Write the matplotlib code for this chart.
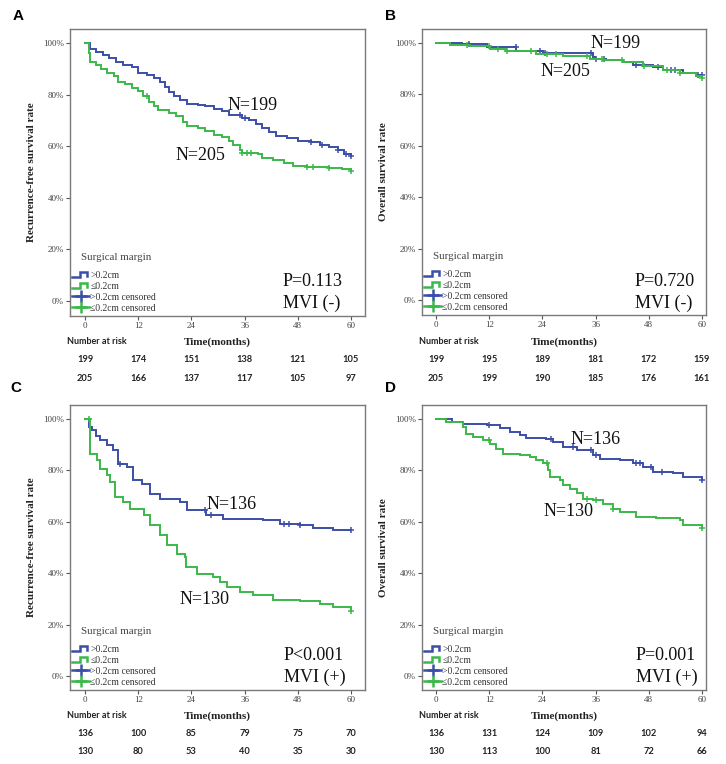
import numpy as np
import matplotlib
matplotlib.use("Agg")
import matplotlib.pyplot as plt
import matplotlib.transforms as mtrans
from matplotlib.lines import Line2D
from matplotlib.legend_handler import HandlerBase

W, H = 726, 764
BLUE = "#3b4fa6"
GREEN = "#3cb84a"
FRAME = "#7a7a7a"
SERIF = "Liberation Serif"
SANS = "Lato"

# ---------------- data ----------------
months = [0, 12, 24, 36, 48, 60]
ytick_vals = [0, 20, 40, 60, 80, 100]
ytick_labels = ["0%", "20%", "40%", "60%", "80%", "100%"]
legend_labels = [">0.2cm", "\u22640.2cm", ">0.2cm censored", "\u22640.2cm censored"]

# Panel A: Recurrence-free survival, MVI (-)
A_gt_t = [0, 1.2, 2.5, 4, 5.5, 7, 8.5, 10.5, 12, 14, 15.5, 17, 18, 19, 20, 21.5, 23, 25.5, 27, 29,
          31, 32.5, 35.5, 37, 38.5, 40, 41.5, 43, 45.5, 48, 51, 53, 55, 57, 58.5, 60]
A_gt_s = [100, 97.5, 96.5, 95.5, 94, 92.5, 91.5, 90.5, 88.5, 87.5, 86.5, 85, 83, 81, 79.5, 78, 76.5,
          76, 75.5, 74.5, 73.5, 72, 71, 70, 68.5, 67, 65.5, 64, 63, 62, 61.5, 60.5, 59.5, 58.5, 57, 56]
A_le_t = [0, 0.8, 1.2, 2.5, 3.5, 5, 6.5, 7.5, 9, 10.5, 12, 13, 14.5, 15.5, 16.5, 19, 20.5, 22, 23,
          25.5, 27, 29, 31, 32.5, 33.5, 35, 35.5, 39, 40, 42.5, 45, 47, 50, 55, 58, 60]
A_le_s = [100, 96, 92.5, 91.5, 90, 88.5, 87, 85, 84, 82.5, 81.5, 79.5, 77, 75.5, 74, 73, 71.5, 69.5,
          68, 67, 66, 64.5, 63.5, 62, 60.5, 58.5, 57.5, 57, 55.5, 54.5, 53.5, 52.5, 52, 51.5, 51, 50.5]
A_gt_c = [35, 36, 51, 53.5, 57, 59, 60]
A_le_c = [14, 35.5, 36.5, 37.5, 50, 51.5, 55, 60]
A_risk_gt = [199, 174, 151, 138, 121, 105]
A_risk_le = [205, 166, 137, 117, 105, 97]

# Panel B: Overall survival, MVI (-)
B_gt_t = [0, 5.8, 11.4, 18.1, 24.1, 35.4, 35.9, 38.4, 42.2, 44.4, 49, 51.2, 55.7, 58.7, 60]
B_gt_s = [100, 99.4, 98.5, 97, 96, 94.5, 93.7, 93.3, 92.6, 91.3, 90.7, 89.3, 88.1, 87.4, 87.4]
B_le_t = [0, 3.1, 7.6, 12.1, 15.9, 22.6, 28.6, 34.7, 37.7, 42.2, 46.7, 51.2, 55, 58.7, 60]
B_le_s = [100, 99.3, 98.7, 97.6, 96.8, 95.8, 94.8, 93.9, 93.2, 92.5, 91.2, 89.6, 88.1, 87.1, 86.2]
B_gt_c = [7.5, 18, 23.5, 24.5, 35, 36, 38, 45, 50, 53, 54, 59, 60]
B_le_c = [7, 12, 14, 16, 21.5, 25, 27, 34, 37.5, 42, 47, 52, 55, 60]
B_risk_gt = [199, 195, 189, 181, 172, 159]
B_risk_le = [205, 199, 190, 185, 176, 161]

# Panel C: Recurrence-free survival, MVI (+)
C_gt_t = [0, 0.8, 1.5, 2.5, 3.4, 4.9, 6.4, 7.5, 9.4, 10.9, 12.8, 14.7, 16.9, 21.4, 23, 27.4, 31.2,
          40.2, 44, 48.5, 51.5, 56, 60]
C_gt_s = [100, 97, 95.6, 93.5, 91.7, 89.8, 87.8, 82.6, 81.3, 76.1, 74.8, 70.9, 69, 67.7, 64.5, 62.8,
          61.2, 60.6, 59.3, 58.6, 57.6, 56.7, 56.7]
C_le_t = [0, 1.2, 2.6, 3.4, 4.9, 5.6, 6.8, 8.6, 10.2, 13.2, 14.7, 16.9, 18.4, 20.7, 22.6, 22.9, 25.2,
          28.9, 30.5, 32, 35, 38, 42.5, 48.5, 53, 56, 60]
C_le_s = [100, 86.5, 84, 80.7, 78, 75.5, 69.6, 67.5, 65.1, 62.5, 58.6, 54.7, 50.9, 47.6, 46.3, 42.4,
          39.8, 38.5, 36.6, 34.6, 32.7, 31.4, 29.5, 29.3, 28.1, 26.8, 25.5]
C_gt_c = [8, 27, 28.5, 45, 46, 48.5, 60]
C_le_c = [1, 60]
C_risk_gt = [136, 100, 85, 79, 75, 70]
C_risk_le = [130, 80, 53, 40, 35, 30]

# Panel D: Overall survival, MVI (+)
D_gt_t = [0, 3.5, 6.1, 11.4, 14.4, 16.6, 18.9, 20.4, 24.9, 26.4, 28.6, 31.7, 35.4, 36.9, 41.4, 44.4,
          46.7, 49, 53.5, 55.7, 60]
D_gt_s = [100, 98.8, 98.2, 97.5, 96.3, 95, 93.7, 92.4, 92.1, 91.1, 89.1, 87.8, 85.9, 84.6, 83.9, 82.7,
          81.4, 79.4, 78.8, 77.5, 76.4]
D_le_t = [0, 2.3, 6.1, 6.8, 8.3, 10.6, 12.1, 13.6, 15.1, 18.9, 21.1, 22.6, 24.1, 25.3, 25.7, 27.9,
          28.6, 30.2, 31.7, 33.2, 35.4, 37.7, 39.9, 41.4, 45.2, 49.7, 55, 55.7, 60]
D_le_s = [100, 98.8, 96.8, 94.2, 93, 91.7, 90.4, 88.4, 86.5, 85.9, 85.2, 83.9, 82.7, 80.1, 77.5, 76.2,
          74.2, 72.9, 71, 69, 68.4, 67.1, 65.1, 63.9, 61.9, 61.3, 60.6, 58.6, 57.4]
D_gt_c = [12, 26, 31, 35, 36, 45, 46, 48.5, 51, 60]
D_le_c = [12, 25, 34, 36, 40, 60]
D_risk_gt = [136, 131, 124, 109, 102, 94]
D_risk_le = [130, 113, 100, 81, 72, 66]

# ---------------- layout (pixels) ----------------
panels = [
    dict(letter="A", box=(70, 29, 365, 316), xlim=(-3.4, 63.2), ylim=(-5.8, 105.4),
         ylabel="Recurrence-free survival rate", ylab_x=32, risk_y=(341, 359, 378),
         gt=(A_gt_t, A_gt_s, A_gt_c), le=(A_le_t, A_le_s, A_le_c), risk=(A_risk_gt, A_risk_le),
         n_gt=("N=199", 253, 106), n_le=("N=205", 200, 155),
         p=("P=0.113", "MVI (-)", 283, 282, 303), letter_xy=(18, 16), nar_x=67),
    dict(letter="B", box=(422, 29, 706, 315), xlim=(-3.16, 60.9), ylim=(-5.8, 105.4),
         ylabel="Overall survival rate", ylab_x=384, risk_y=(341, 359, 378),
         gt=(B_gt_t, B_gt_s, B_gt_c), le=(B_le_t, B_le_s, B_le_c), risk=(B_risk_gt, B_risk_le),
         n_gt=("N=199", 616, 44), n_le=("N=205", 565, 72),
         p=("P=0.720", "MVI (-)", 635, 282, 303), letter_xy=(391, 16), nar_x=419),
    dict(letter="C", box=(70, 405, 365, 690), xlim=(-3.4, 63.2), ylim=(-5.4, 105.4),
         ylabel="Recurrence-free survival rate", ylab_x=32, risk_y=(715, 733, 752),
         gt=(C_gt_t, C_gt_s, C_gt_c), le=(C_le_t, C_le_s, C_le_c), risk=(C_risk_gt, C_risk_le),
         n_gt=("N=136", 232, 505), n_le=("N=130", 205, 599),
         p=("P<0.001", "MVI (+)", 284, 655, 677), letter_xy=(16, 388), nar_x=67),
    dict(letter="D", box=(422, 405, 706, 690), xlim=(-3.16, 60.9), ylim=(-5.4, 105.4),
         ylabel="Overall survival rate", ylab_x=384, risk_y=(715, 733, 752),
         gt=(D_gt_t, D_gt_s, D_gt_c), le=(D_le_t, D_le_s, D_le_c), risk=(D_risk_gt, D_risk_le),
         n_gt=("N=136", 596, 439), n_le=("N=130", 569, 511),
         p=("P=0.001", "MVI (+)", 636, 655, 677), letter_xy=(391, 388), nar_x=419),
]


def fx(px):
    return px / W


def fy(py):
    return 1 - py / H


class StepHandler(HandlerBase):
    def create_artists(self, legend, orig_handle, xdescent, ydescent, width, height, fontsize, trans):
        x0 = -xdescent
        xs = np.array([0, 0.45, 0.45, 0.85, 0.85]) * width + x0
        ys = np.array([0.15, 0.15, 0.85, 0.85, 0.35]) * height - ydescent
        ln = Line2D(xs, ys, color=orig_handle.get_color(), lw=orig_handle.get_linewidth(),
                    solid_joinstyle="miter")
        ln.set_transform(trans)
        return [ln]


def step_at(t, s, tc):
    t = np.asarray(t)
    s = np.asarray(s)
    idx = np.searchsorted(t, tc, side="right") - 1
    return s[np.clip(idx, 0, len(s) - 1)]


fig = plt.figure(figsize=(W / 100, H / 100), dpi=100)
fig.patch.set_facecolor("white")

for P in panels:
    l, t, r, b = P["box"]
    ax = fig.add_axes([fx(l), fy(b), (r - l) / W, (b - t) / H])
    ax.set_xlim(*P["xlim"])
    ax.set_ylim(*P["ylim"])
    for sp in ax.spines.values():
        sp.set_color(FRAME)
        sp.set_linewidth(1.0)
    ax.set_xticks(months)
    ax.set_xticklabels([str(m) for m in months])
    ax.set_yticks(ytick_vals)
    ax.set_yticklabels(ytick_labels)
    ax.tick_params(direction="out", length=3, width=0.8, color="#555555", labelcolor="#444444",
                   labelsize=6.5, pad=1.5)
    for lab in ax.get_xticklabels() + ax.get_yticklabels():
        lab.set_fontfamily(SERIF)

    for (tt, ss, cc), col in ((P["gt"], BLUE), (P["le"], GREEN)):
        ax.plot(tt, ss, drawstyle="steps-post", color=col, lw=1.4, solid_joinstyle="miter")
        ax.plot(cc, step_at(tt, ss, cc), ls="none", marker="+", ms=5, mew=1.1, color=col)

    # curve labels
    for key in ("n_gt", "n_le"):
        txt, xp, yp = P[key]
        fig.text(fx(xp), fy(yp), txt, ha="center", va="center", fontsize=13, family=SERIF,
                 color="#111111")
    ptxt, mtxt, xp, y1, y2 = P["p"]
    fig.text(fx(xp), fy(y1), ptxt, ha="left", va="center", fontsize=13, family=SERIF, color="#111111")
    fig.text(fx(xp), fy(y2), mtxt, ha="left", va="center", fontsize=13, family=SERIF, color="#111111")

    # y label
    fig.text(fx(P["ylab_x"]), fy((t + b) / 2), P["ylabel"], rotation=90, ha="center", va="center",
             fontsize=8, family=SERIF, fontweight="bold", color="#222222")

    # legend
    fig.text(fx(l + 11), fy(b - 58), "Surgical margin", ha="left", va="center", fontsize=7.8,
             family=SERIF, color="#444444")
    handles = [Line2D([], [], color=BLUE, lw=1.8), Line2D([], [], color=GREEN, lw=1.8),
               Line2D([], [], color=BLUE, lw=1.8, marker="+", ms=9, mew=1.8),
               Line2D([], [], color=GREEN, lw=1.8, marker="+", ms=9, mew=1.8)]
    leg = ax.legend(handles, legend_labels, loc="upper left",
                    bbox_to_anchor=(fx(l + 2), fy(b - 45)), bbox_transform=fig.transFigure,
                    frameon=False, prop=dict(family=SERIF, size=6.9), labelspacing=0.2,
                    handlelength=1.8, handletextpad=0.1, borderpad=0, borderaxespad=0,
                    handler_map={handles[0]: StepHandler(), handles[1]: StepHandler()})
    for txt in leg.get_texts():
        txt.set_color("#333333")

    # risk table
    ry0, ry1, ry2 = P["risk_y"]
    fig.text(fx(P["nar_x"]), fy(ry0), "Number at risk", ha="left", va="center", fontsize=6.5,
             family=SANS, fontweight="bold", color="#222222")
    fig.text(fx((l + r) / 2), fy(ry0 + 1), "Time(months)", ha="center", va="center", fontsize=8,
             family=SERIF, fontweight="bold", color="#222222")
    btr = mtrans.blended_transform_factory(ax.transData, fig.transFigure)
    for row, yy in zip(P["risk"], (ry1, ry2)):
        for m, v in zip(months, row):
            ax.text(m, fy(yy), str(v), transform=btr, ha="center", va="center", fontsize=6.7,
                    family=SANS, fontweight="bold", color="#222222", clip_on=False)

    lx, ly = P["letter_xy"]
    fig.text(fx(lx), fy(ly), P["letter"], ha="center", va="center", fontsize=11,
             family="Liberation Sans", fontweight="bold", color="black")

fig.savefig("out.png", dpi=100, facecolor="white")
